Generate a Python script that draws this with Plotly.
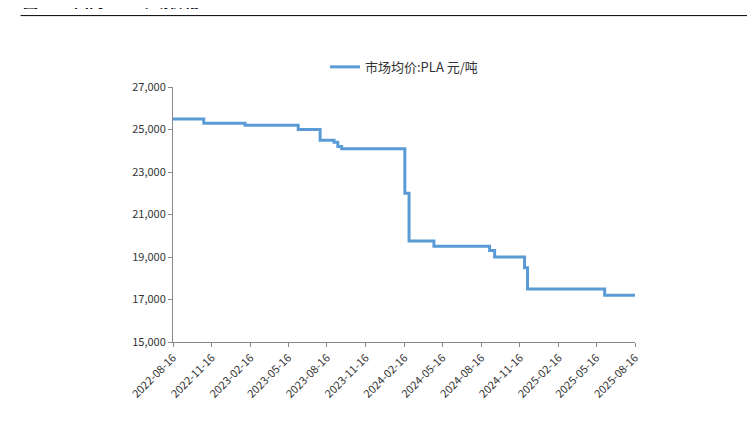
import plotly.graph_objects as go

dates = ["2022-08-16","2022-10-28","2023-02-03","2023-06-09","2023-07-31","2023-09-02","2023-09-11",
         "2023-09-20","2024-02-17","2024-02-27","2024-04-26","2024-09-05","2024-09-17","2024-11-27",
         "2024-12-04","2025-06-05","2025-08-16"]
prices = [25500,25300,25200,25000,24500,24400,24200,24100,22000,19750,19500,19300,19000,18500,17500,17200,17200]
tick_dates = ["2022-08-16","2022-11-16","2023-02-16","2023-05-16","2023-08-16","2023-11-16","2024-02-16",
              "2024-05-16","2024-08-16","2024-11-16","2025-02-16","2025-05-16","2025-08-16"]
y_ticks = [15000,17000,19000,21000,23000,25000,27000]

fig = go.Figure(go.Scatter(x=dates, y=prices, mode="lines", line_shape="hv",
                           line=dict(color="#5B9BD5", width=3), name="市场均价:PLA 元/吨"))
fig.update_layout(
    width=755, height=436, paper_bgcolor="white", plot_bgcolor="white",
    margin=dict(l=165, r=128, t=79, b=102),
    font=dict(family="Noto Sans CJK SC", size=11, color="#333"),
    showlegend=True,
    legend=dict(x=0.5, y=1.02, xanchor="center", yanchor="bottom", orientation="h", font=dict(size=13)),
    xaxis=dict(type="date", range=["2022-08-16","2025-08-16"], tickvals=tick_dates, ticktext=tick_dates,
               tickangle=-45, showgrid=False, showline=True, linecolor="#888", ticks="outside",
               ticklen=4, tickcolor="#888"),
    yaxis=dict(range=[15000,27000], tickvals=y_ticks, tickformat=",", showgrid=False,
               showline=True, linecolor="#888", ticks="outside", ticklen=4, tickcolor="#888"),
)
fig.add_annotation(text="<b>图 20：国内 PLA 市场价格</b>", xref="paper", yref="paper", x=-0.33, y=1.29,
                   xanchor="left", yanchor="bottom", showarrow=False, font=dict(size=15, color="#000"),
                   ) 
fig.add_shape(type="line", xref="paper", yref="paper", x0=-0.33, x1=1.26, y0=1.28, y1=1.28,
              line=dict(color="#000", width=1))
fig.add_shape(type="line", xref="paper", yref="paper", x0=-0.33, x1=1.26, y0=-0.48, y1=-0.48,
              line=dict(color="#000", width=1))
fig.add_annotation(text="资料来源：Wind、国海证券研究所", xref="paper", yref="paper", x=-0.33, y=-0.5,
                   xanchor="left", yanchor="top", showarrow=False, font=dict(size=13, color="#000"))
fig.write_html("out.html")
